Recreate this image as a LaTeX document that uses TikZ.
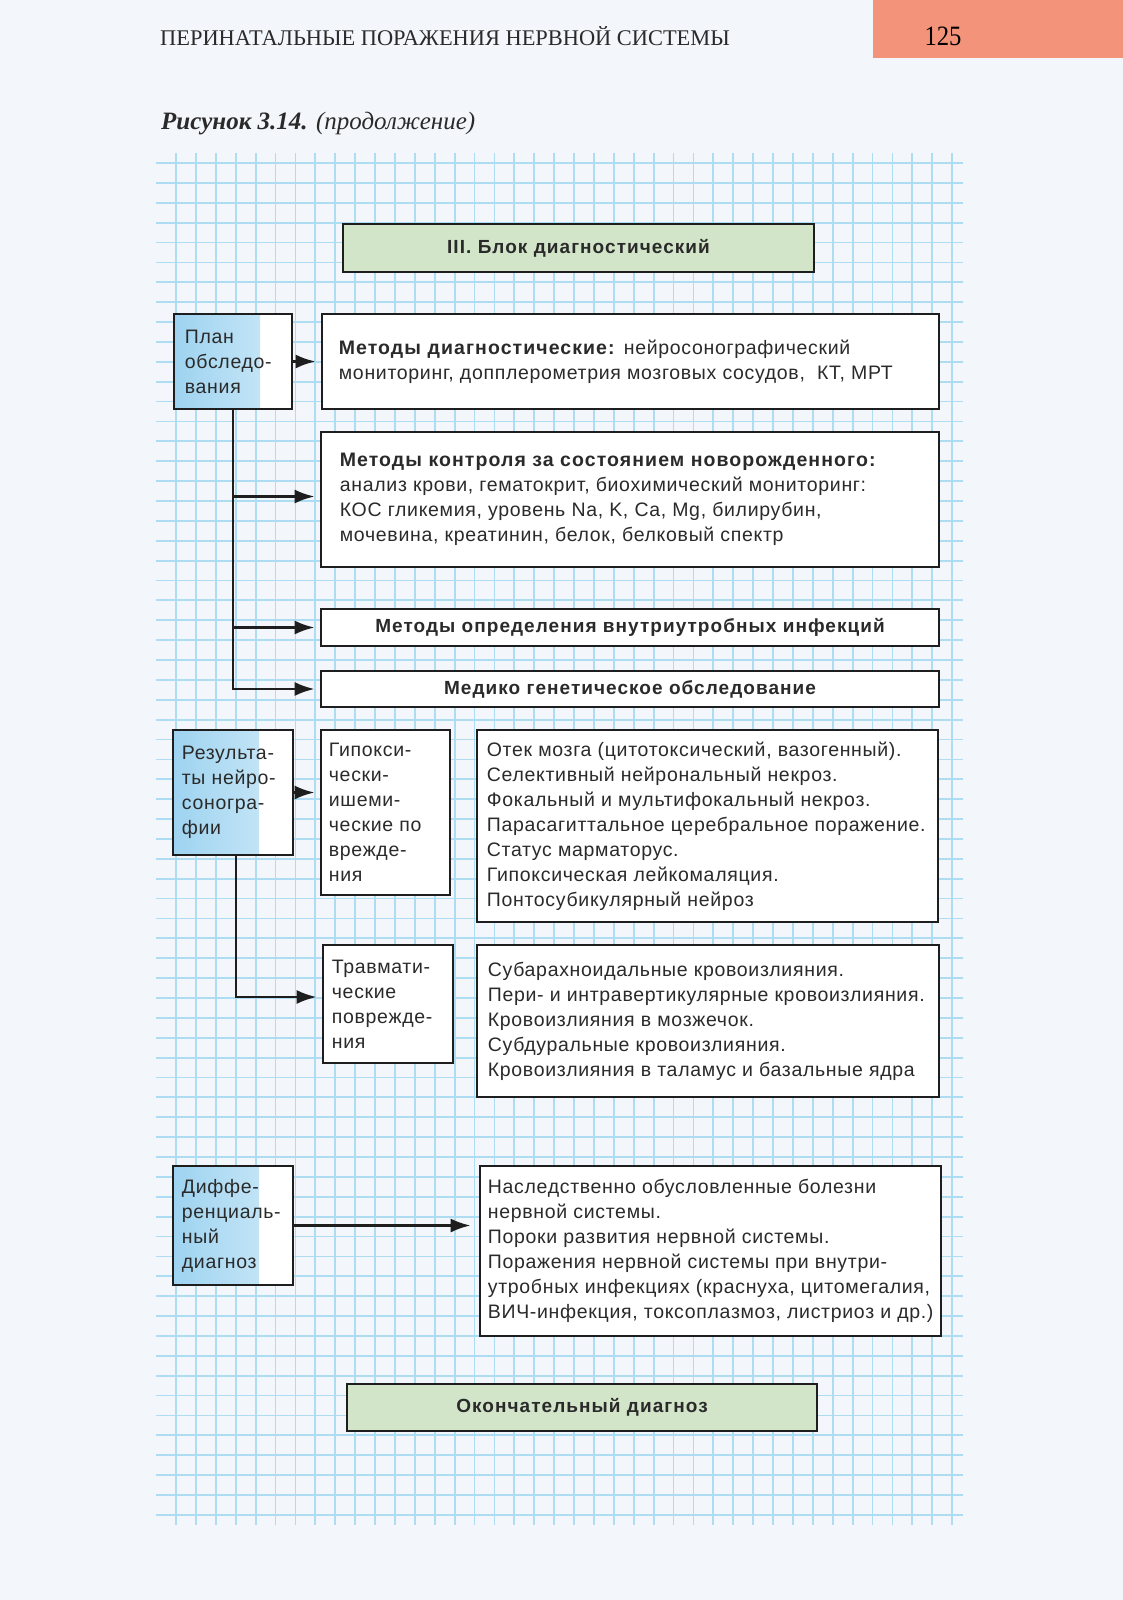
\documentclass[tikz,border=0pt]{standalone}
\usepackage{fontspec}
\setmainfont{Liberation Serif}
\setsansfont{Liberation Sans}[LetterSpace=3.5, BoldFeatures={LetterSpace=5.5}]
\usetikzlibrary{arrows.meta}
\definecolor{bgc}{HTML}{F3F7FB}
\definecolor{gridc}{HTML}{AEDDF3}
\definecolor{greenc}{HTML}{D3E5C9}
\definecolor{orangec}{HTML}{F3937A}
\definecolor{blueA}{HTML}{9ED3F0}
\definecolor{blueB}{HTML}{CFEAF8}
\definecolor{linec}{HTML}{1E1E1E}
\definecolor{textc}{HTML}{2A2A2A}
\tikzset{
  gridline/.style={draw=gridc, line width=1.8pt},
  box/.style={draw=linec, line width=2.6pt, fill=white, inner sep=0pt, text=textc,
    font=\sffamily\bfseries\fontsize{19}{25}\selectfont},
  gbox/.style={box, fill=greenc},
  lbox/.style={box, path picture={\shade[left color=blueA, right color=blueB]
    (path picture bounding box.north west) rectangle ([xshift=86pt]path picture bounding box.south west);}},
  txt/.style={font=\sffamily\fontsize{19.5}{25}\selectfont, align=left, inner sep=0pt, text=textc, anchor=west},
  conn/.style={draw=linec, line width=2.8pt, -{Latex[length=20pt,width=14pt]}, shorten >=5pt},
}
\begin{document}
\begin{tikzpicture}[x=1pt,y=-1pt]
\fill[bgc] (0,0) rectangle (1123,1600);
\useasboundingbox (0,0) rectangle (1123,1600);
% grid
\foreach \k in {0,...,39} {\pgfmathsetmacro\gx{176+19.9*\k}\draw[gridline] (\gx,153) -- (\gx,1525);}
\foreach \k in {0,...,68} {\pgfmathsetmacro\gy{163+19.88*\k}\draw[gridline] (156,\gy) -- (963,\gy);}
% page header
\fill[orangec] (873,0) rectangle (1123,58);
\node[inner sep=0pt, anchor=base] (pnum) at (943,46) {\scalebox{0.88}[1]{\fontsize{28}{28}\selectfont 125}};
\node[inner sep=0pt, anchor=base west, text=textc] (runhead) at (160,46) {\fontsize{22.4}{22}\selectfont ПЕРИНАТАЛЬНЫЕ ПОРАЖЕНИЯ НЕРВНОЙ СИСТЕМЫ};
\node[inner sep=0pt, anchor=base west, text=textc] (figcap) at (161,130) {\fontsize{25}{25}\selectfont\textbf{\textit{Рисунок 3.14.}} \textit{(продолжение)}};
% boxes
\node[gbox, minimum width=471pt, minimum height=48pt] (hdr) at (578.5,248) {III. Блок диагностический};
\node[lbox, minimum width=118pt, minimum height=95pt] (plan) at (233,361.5) {};
\node[txt] (planT) at ([xshift=12pt]plan.west) {План\\обследо-\\вания};
\node[box, minimum width=617pt, minimum height=95pt] (meth) at (630.5,361.5) {};
\node[txt] (methT) at ([xshift=18pt]meth.west) {\textbf{Методы диагностические:} нейросонографический\\мониторинг, допплерометрия мозговых сосудов,\ \ КТ, МРТ};
\node[box, minimum width=618pt, minimum height=135pt] (ctrl) at (630,499.5) {};
\node[txt] (ctrlT) at ([xshift=20pt]ctrl.west) {\textbf{Методы контроля за состоянием новорожденного:}\\анализ крови, гематокрит, биохимический мониторинг:\\КОС гликемия, уровень Na, K, Ca, Mg, билирубин,\\мочевина, креатинин, белок, белковый спектр};
\node[box, minimum width=618pt, minimum height=37pt] (inf) at (630,627.5) {Методы определения внутриутробных инфекций};
\node[box, minimum width=618pt, minimum height=36pt] (gen) at (630,689) {Медико генетическое обследование};
\node[lbox, minimum width=120pt, minimum height=125pt] (res) at (233,792.5) {};
\node[txt] (resT) at ([xshift=10pt]res.west) {Результа-\\ты нейро-\\соногра-\\фии};
\node[box, minimum width=129pt, minimum height=165pt] (hyp) at (385.5,812.5) {};
\node[txt] (hypT) at ([xshift=9pt]hyp.west) {Гипокси-\\чески-\\ишеми-\\ческие по\\вреждe-\\ния};
\node[box, minimum width=461pt, minimum height=192pt] (hypl) at (707.5,826) {};
\node[txt] (hyplT) at ([xshift=11pt]hypl.west) {Отек мозга (цитотоксический, вазогенный).\\Селективный нейрональный некроз.\\Фокальный и мультифокальный некроз.\\Парасагиттальное церебральное поражение.\\Статус марматорус.\\Гипоксическая лейкомаляция.\\Понтосубикулярный нейроз};
\node[box, minimum width=130pt, minimum height=118pt] (tra) at (388,1004) {};
\node[txt] (traT) at ([xshift=10pt]tra.west) {Травмати-\\ческие\\поврежде-\\ния};
\node[box, minimum width=462pt, minimum height=152pt] (tral) at (708,1021) {};
\node[txt] (tralT) at ([xshift=12pt]tral.west) {Субарахноидальные кровоизлияния.\\Пери- и интравертикулярные кровоизлияния.\\Кровоизлияния в мозжечок.\\Субдуральные кровоизлияния.\\Кровоизлияния в таламус и базальные ядра};
\node[lbox, minimum width=120pt, minimum height=119pt] (dif) at (233,1225.5) {};
\node[txt] (difT) at ([xshift=10pt]dif.west) {Диффе-\\ренциаль-\\ный\\диагноз};
\node[box, minimum width=461pt, minimum height=170pt] (difl) at (710.5,1251) {};
\node[txt] (diflT) at ([xshift=9pt]difl.west) {Наследственно обусловленные болезни\\нервной системы.\\Пороки развития нервной системы.\\Поражения нервной системы при внутри-\\утробных инфекциях (краснуха, цитомегалия,\\ВИЧ-инфекция, токсоплазмоз, листриоз и др.)};
\node[gbox, minimum width=470pt, minimum height=47pt] (fin) at (582,1407.5) {Окончательный диагноз};
% connectors
\draw[conn] (plan.east) -- (meth.west);
\draw[conn] (plan.south) |- ([yshift=3pt]ctrl.west);
\draw[conn] (plan.south) |- (inf.west);
\draw[conn] (plan.south) |- (gen.west);
\draw[conn] (res.east) -- (res.east -| hyp.west);
\draw[conn] ([xshift=3pt]res.south) |- ([yshift=7pt]tra.west);
\draw[conn, shorten >=8pt] (dif.east) -- (dif.east -| difl.west);
\end{tikzpicture}
\end{document}
